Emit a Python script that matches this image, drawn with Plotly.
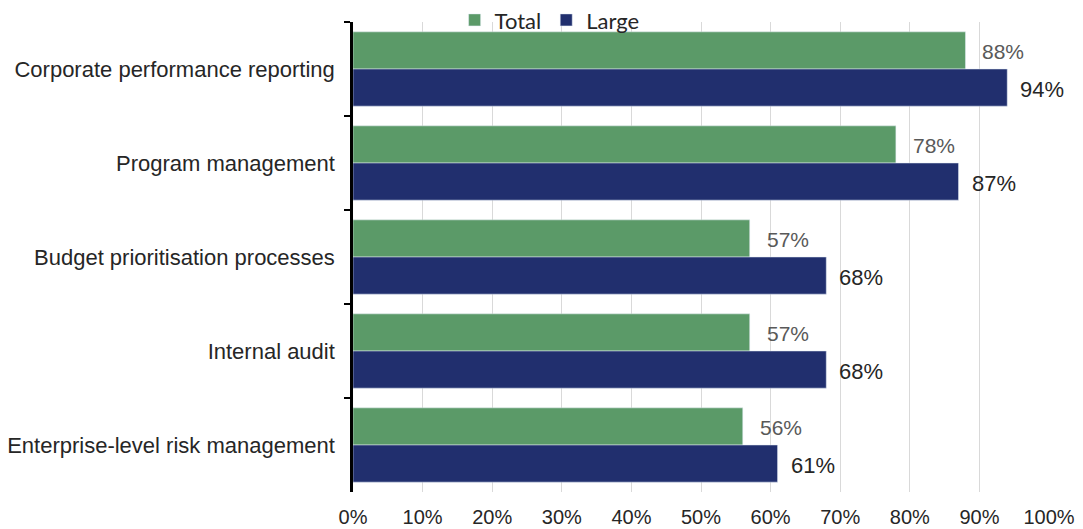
import plotly.graph_objects as go

categories = [
    "Corporate performance reporting",
    "Program management",
    "Budget prioritisation processes",
    "Internal audit",
    "Enterprise-level risk management",
]
total_pct = [88, 78, 57, 57, 56]
large_pct = [94, 87, 68, 68, 61]
x_ticks = [0, 10, 20, 30, 40, 50, 60, 70, 80, 90, 100]
x_tick_labels = [f"{v}%" for v in x_ticks]

GREEN = "#5B9A68"
NAVY = "#212F6E"
BAR_GAP = 0.21
half = (1 - BAR_GAP) / 2  # width of each bar in category units

fig = go.Figure()
fig.add_trace(go.Bar(name="Total", y=categories, x=total_pct, orientation="h",
                     marker_color=GREEN))
fig.add_trace(go.Bar(name="Large", y=categories, x=large_pct, orientation="h",
                     marker_color=NAVY))

# value labels placed just right of each bar end
annotations = []
for i, (t, l) in enumerate(zip(total_pct, large_pct)):
    annotations.append(dict(x=t, y=i - half / 2, xref="x", yref="y",
                            text=f"{t}%", showarrow=False, xanchor="left",
                            xshift=15, yshift=-1,
                            font=dict(size=21, color="#595959",
                                      family="Liberation Sans")))
    annotations.append(dict(x=l, y=i + half / 2, xref="x", yref="y",
                            text=f"{l}%", showarrow=False, xanchor="left",
                            xshift=11, yshift=-2,
                            font=dict(size=22, color="#262626",
                                      family="Liberation Sans")))

fig.update_layout(
    width=1083, height=529,
    margin=dict(l=353, r=34, t=22, b=37, autoexpand=False),
    paper_bgcolor="white", plot_bgcolor="white",
    barmode="group", bargap=BAR_GAP, bargroupgap=0,
    font=dict(family="Liberation Sans", size=20, color="#262626"),
    showlegend=True,
    legend=dict(orientation="h", x=0.146, xanchor="left", y=1.004, yanchor="middle",
                font=dict(family="Lato", size=22, color="#262626"),
                bgcolor="rgba(0,0,0,0)", itemwidth=30, traceorder="normal",
                tracegroupgap=0),
    annotations=annotations,
)
fig.update_xaxes(range=[0, 100], tickvals=x_ticks, ticktext=x_tick_labels,
                 showgrid=True, gridcolor="#D9D9D9", gridwidth=1,
                 zeroline=False, showline=False, ticks="",
                 ticklabelstandoff=11,
                 tickfont=dict(size=20, color="#262626"))
fig.update_yaxes(autorange="reversed", type="category", tickson="boundaries",
                 ticks="outside", ticklen=6, tickwidth=2, tickcolor="black",
                 showline=True, linecolor="black", linewidth=2.5,
                 showgrid=False, ticklabelstandoff=11,
                 tickfont=dict(size=22, color="#262626"))

fig.write_html("out.html")
